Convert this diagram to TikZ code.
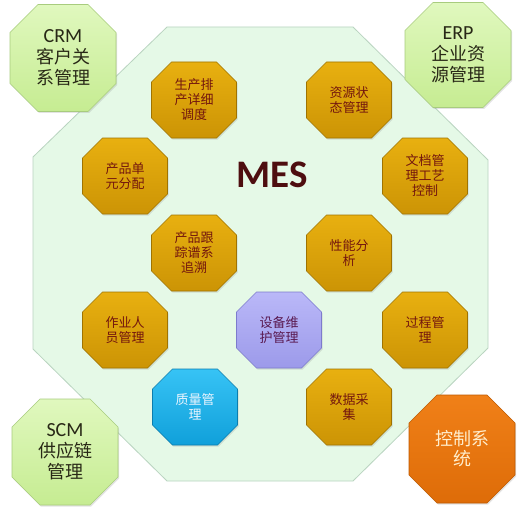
\documentclass[tikz,border=0pt]{standalone}
\usepackage{fontspec}
\setmainfont{Carlito}
\newfontfamily\cjk{Noto Sans CJK SC}
\newfontfamily\latn{Carlito}
\usetikzlibrary{shadows}
\definecolor{mint}{RGB}{229,249,231}
\definecolor{mintline}{RGB}{185,212,192}
\definecolor{goldtop}{RGB}{232,176,16}
\definecolor{goldbot}{RGB}{204,148,5}
\definecolor{goldline}{RGB}{160,115,0}
\definecolor{goldtext}{RGB}{115,22,14}
\definecolor{greentop}{RGB}{224,248,190}
\definecolor{greenbot}{RGB}{198,236,146}
\definecolor{greenline}{RGB}{168,204,126}
\definecolor{greentext}{RGB}{40,40,22}
\definecolor{orangetop}{RGB}{240,128,24}
\definecolor{orangebot}{RGB}{222,108,8}
\definecolor{orangeline}{RGB}{190,90,0}
\definecolor{orangetext}{RGB}{255,238,205}
\definecolor{bluetop}{RGB}{55,195,245}
\definecolor{bluebot}{RGB}{16,160,218}
\definecolor{blueline}{RGB}{10,125,175}
\definecolor{bluetext}{RGB}{235,245,255}
\definecolor{purptop}{RGB}{186,184,248}
\definecolor{purpbot}{RGB}{156,154,234}
\definecolor{purpline}{RGB}{125,123,205}
\definecolor{purptext}{RGB}{90,25,80}
\definecolor{mestext}{RGB}{78,14,16}
\tikzset{
  x=1pt, y=-1pt,
  shadowed/.style={drop shadow={opacity=0.22, shadow xshift=1pt, shadow yshift=-1.5pt}},
  goldbox/.style={shadowed, top color=goldtop, bottom color=goldbot, draw=goldline, line width=0.6pt},
  goldtxt/.style={font=\cjk\fontsize{13}{15}\selectfont, text=goldtext, align=center, inner sep=0pt},
  greenbox/.style={shadowed, top color=greentop, bottom color=greenbot, draw=greenline, line width=0.6pt},
  greentxt/.style={font=\cjk\fontsize{18}{21}\selectfont, text=greentext, align=center, inner sep=0pt},
  orangebox/.style={shadowed, top color=orangetop, bottom color=orangebot, draw=orangeline, line width=0.6pt},
  orangetxt/.style={font=\cjk\fontsize{18}{20}\selectfont, text=orangetext, align=center, inner sep=0pt},
  bluebox/.style={shadowed, top color=bluetop, bottom color=bluebot, draw=blueline, line width=0.6pt},
  bluetxt/.style={font=\cjk\fontsize{13}{15}\selectfont, text=bluetext, align=center, inner sep=0pt},
  purpbox/.style={shadowed, top color=purptop, bottom color=purpbot, draw=purpline, line width=0.6pt},
  purptxt/.style={font=\cjk\fontsize{13}{15}\selectfont, text=purptext, align=center, inner sep=0pt},
}
% #1 name, #2 cx, #3 cy, #4 w, #5 h, #6 cut, #7 style base, #8 text
\newcommand{\octo}[8]{%
  \path[#7box] ({#2-#4/2+#6},{#3-#5/2}) -- ({#2+#4/2-#6},{#3-#5/2})
    -- ({#2+#4/2},{#3-#5/2+#6}) -- ({#2+#4/2},{#3+#5/2-#6})
    -- ({#2+#4/2-#6},{#3+#5/2}) -- ({#2-#4/2+#6},{#3+#5/2})
    -- ({#2-#4/2},{#3+#5/2-#6}) -- ({#2-#4/2},{#3-#5/2+#6}) -- cycle;
  \node[#7txt] (#1) at (#2,#3) {#8};}
\begin{document}
\begin{tikzpicture}
\useasboundingbox[fill=white] (0,0) rectangle (526,513);
% big MES octagon
\path[fill=mint, draw=mintline, line width=0.8pt]
  (167,27) -- (353,27) -- (488,160) -- (488,348) -- (353,481)
  -- (167,481) -- (33,349) -- (33,157) -- cycle;
\node[font=\latn\bfseries\fontsize{39}{39}\selectfont, text=mestext, inner sep=0pt] (mes) at (272,175) {MES};
% inner modules
\octo{sched}{194}{100}{85}{76}{20}{gold}{生产排\\产详细\\调度}
\octo{res}{349}{100}{85}{76}{20}{gold}{资源状\\态管理}
\octo{unit}{125}{176}{85}{76}{20}{gold}{产品单\\元分配}
\octo{doc}{425}{176}{85}{76}{20}{gold}{文档管\\理工艺\\控制}
\octo{trace}{194}{253}{85}{76}{20}{gold}{产品跟\\踪谱系\\追溯}
\octo{perf}{349}{253}{85}{76}{20}{gold}{性能分\\析}
\octo{staff}{125}{330}{85}{76}{20}{gold}{作业人\\员管理}
\octo{maint}{279}{330}{85}{76}{20}{purp}{设备维\\护管理}
\octo{proc}{425}{330}{85}{76}{20}{gold}{过程管\\理}
\octo{qual}{195}{407}{85}{76}{20}{blue}{质量管\\理}
\octo{data}{349}{407}{85}{76}{20}{gold}{数据采\\集}
% outer systems
\octo{crm}{63}{58}{106}{107}{28}{green}{{\latn\fontsize{20}{21}\selectfont CRM}\\客户关\\系管理}
\octo{erp}{458}{55}{106}{105}{28}{green}{{\latn\fontsize{20}{21}\selectfont ERP}\\企业资\\源管理}
\octo{scm}{65}{452}{106}{106}{28}{green}{{\latn\fontsize{20}{21}\selectfont SCM}\\供应链\\管理}
\octo{ctrl}{462}{449}{106}{108}{28}{orange}{控制系\\统}
\end{tikzpicture}
\end{document}
